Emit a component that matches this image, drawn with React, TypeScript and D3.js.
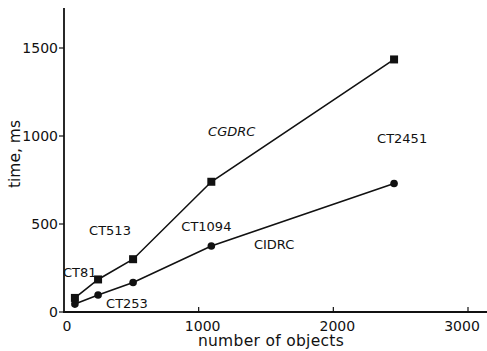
import React, { useEffect, useRef } from 'react';
import * as d3 from 'd3';

// number of objects per test case
const objects = [81, 253, 513, 1094, 2451];
// time, ms
const cgdrcTimes = [80, 185, 300, 740, 1435];
const cidrcTimes = [45, 97, 168, 375, 730];

const xTicks = [0, 1000, 2000, 3000];
const yTicks = [0, 500, 1000, 1500];

const caseLabels = [
  { text: 'CT81', obj: 81, t: 200, dx: -12 },
  { text: 'CT513', obj: 513, t: 440, dx: -44 },
  { text: 'CT253', obj: 253, t: 25, dx: 8 },
  { text: 'CT1094', obj: 1094, t: 460, dx: -30 },
  { text: 'CT2451', obj: 2451, t: 960, dx: -17 },
];

const App = () => {
  const ref = useRef<SVGSVGElement>(null);

  useEffect(() => {
    const width = 487;
    const height = 351;
    const svg = d3.select(ref.current);
    svg.selectAll('*').remove();
    svg.attr('width', width).attr('height', height);

    svg.append('rect').attr('width', width).attr('height', height).attr('fill', '#fff');

    const x = d3.scaleLinear().domain([0, 3000]).range([64, 468]);
    const y = d3.scaleLinear().domain([0, 1500]).range([312, 48]);

    const ink = '#111';
    const font = 'DejaVu Sans, sans-serif';

    // axes
    svg.append('line')
      .attr('x1', 64).attr('x2', 64).attr('y1', 8).attr('y2', 313)
      .attr('stroke', ink).attr('stroke-width', 1.8);
    svg.append('line')
      .attr('x1', 63).attr('x2', width).attr('y1', 312).attr('y2', 312)
      .attr('stroke', ink).attr('stroke-width', 1.8);

    svg.selectAll('.ytick')
      .data(yTicks)
      .enter()
      .append('line')
      .attr('x1', 59).attr('x2', 64)
      .attr('y1', d => y(d)).attr('y2', d => y(d))
      .attr('stroke', ink).attr('stroke-width', 1.2);

    svg.selectAll('.ylab')
      .data(yTicks)
      .enter()
      .append('text')
      .attr('x', 58)
      .attr('y', d => y(d) + 5)
      .attr('text-anchor', 'end')
      .attr('font-family', font)
      .attr('font-size', 14)
      .attr('fill', ink)
      .text(d => d);

    svg.selectAll('.xtick')
      .data(xTicks.slice(1))
      .enter()
      .append('line')
      .attr('x1', d => x(d)).attr('x2', d => x(d))
      .attr('y1', 307).attr('y2', 312)
      .attr('stroke', ink).attr('stroke-width', 1.2);

    svg.selectAll('.xlab')
      .data(xTicks)
      .enter()
      .append('text')
      .attr('x', d => x(d) + (d === 0 ? 3 : d === 3000 ? -6 : 4))
      .attr('y', 331)
      .attr('text-anchor', 'middle')
      .attr('font-family', font)
      .attr('font-size', 14)
      .attr('fill', ink)
      .text(d => d);

    svg.append('text')
      .attr('x', 271).attr('y', 346)
      .attr('text-anchor', 'middle')
      .attr('font-family', font).attr('font-size', 15.5).attr('fill', ink)
      .attr('letter-spacing', 0.3)
      .text('number of objects');

    svg.append('text')
      .attr('transform', 'translate(20,154) rotate(-90)')
      .attr('text-anchor', 'middle')
      .attr('font-family', font).attr('font-size', 15.5).attr('fill', ink)
      .text('time, ms');

    const line = d3.line<number>()
      .x((d, i) => x(objects[i]))
      .y(d => y(d));

    svg.append('path')
      .datum(cgdrcTimes)
      .attr('fill', 'none').attr('stroke', ink).attr('stroke-width', 1.6)
      .attr('d', line);
    svg.append('path')
      .datum(cidrcTimes)
      .attr('fill', 'none').attr('stroke', ink).attr('stroke-width', 1.6)
      .attr('d', line);

    svg.selectAll('.sq')
      .data(cgdrcTimes)
      .enter()
      .append('rect')
      .attr('x', (d, i) => x(objects[i]) - 4)
      .attr('y', d => y(d) - 4)
      .attr('width', 8).attr('height', 8)
      .attr('fill', ink);

    svg.selectAll('.dot')
      .data(cidrcTimes)
      .enter()
      .append('circle')
      .attr('cx', (d, i) => x(objects[i]))
      .attr('cy', d => y(d))
      .attr('r', 3.8)
      .attr('fill', ink);

    svg.selectAll('.case')
      .data(caseLabels)
      .enter()
      .append('text')
      .attr('x', d => x(d.obj) + d.dx)
      .attr('y', d => y(d.t))
      .attr('font-family', font)
      .attr('font-size', 13)
      .attr('fill', ink)
      .text(d => d.text);

    svg.append('text')
      .attr('x', x(1070)).attr('y', y(1000))
      .attr('font-family', font).attr('font-size', 13)
      .attr('font-style', 'italic').attr('fill', ink)
      .text('CGDRC');

    svg.append('text')
      .attr('x', x(1410)).attr('y', y(360))
      .attr('font-family', font).attr('font-size', 13).attr('fill', ink)
      .text('CIDRC');
  }, []);

  return <svg ref={ref} style={{ position: 'absolute', left: 0, top: 0 }}></svg>;
};

export default App;
